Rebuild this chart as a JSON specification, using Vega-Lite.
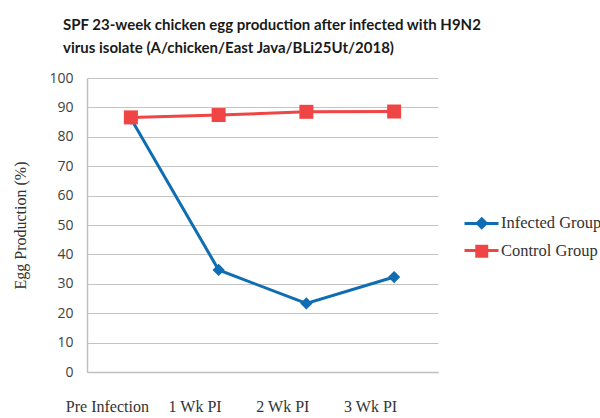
{
  "$schema": "https://vega.github.io/schema/vega-lite/v6.json",
  "autosize": {"type": "none"},
  "padding": {"left": 87, "top": 78, "right": 162, "bottom": 46},
  "width": 351,
  "height": 294,
  "background": "white",
  "title": {
    "text": ["SPF 23-week chicken egg production after infected with H9N2", " virus isolate (A/chicken/East Java/BLi25Ut/2018)"],
    "anchor": "start",
    "frame": "group",
    "dx": -24,
    "offset": 15,
    "font": "Lato",
    "fontSize": 15,
    "fontWeight": "bold",
    "color": "#1a1a1a",
    "lineHeight": 23
  },
  "data": {
    "values": [
      {"week": "Pre Infection", "group": "Infected Group", "line": "Infected", "value": 86.2},
      {"week": "1 Wk PI", "group": "Infected Group", "line": "Infected", "value": 34.7},
      {"week": "2 Wk PI", "group": "Infected Group", "line": "Infected", "value": 23.3},
      {"week": "3 Wk PI", "group": "Infected Group", "line": "Infected", "value": 32.3},
      {"week": "Pre Infection", "group": "Control Group", "line": "Control", "value": 86.6},
      {"week": "1 Wk PI", "group": "Control Group", "line": "Control", "value": 87.4},
      {"week": "2 Wk PI", "group": "Control Group", "line": "Control", "value": 88.5},
      {"week": "3 Wk PI", "group": "Control Group", "line": "Control", "value": 88.6}
    ]
  },
  "encoding": {
    "x": {
      "field": "week",
      "type": "nominal",
      "sort": ["Pre Infection", "1 Wk PI", "2 Wk PI", "3 Wk PI"],
      "scale": {"type": "point", "padding": 0.5},
      "axis": {
        "title": null,
        "labelAngle": 0,
        "labelFont": "Liberation Serif",
        "labelFontSize": 16,
        "labelColor": "#333333",
        "labelPadding": 26,
        "labelOffset": -24,
        "ticks": false,
        "domainColor": "#bfbfbf",
        "domainWidth": 1.5,
        "grid": false
      }
    },
    "y": {
      "field": "value",
      "type": "quantitative",
      "scale": {"domain": [0, 100], "nice": false},
      "axis": {
        "title": "Egg Production (%)",
        "titleFont": "Liberation Serif",
        "titleFontSize": 16,
        "titleFontWeight": "normal",
        "titleColor": "#333333",
        "titlePadding": 20,
        "labelFont": "Open Sans",
        "labelFontSize": 14,
        "labelColor": "#404040",
        "labelPadding": 14,
        "values": [0, 10, 20, 30, 40, 50, 60, 70, 80, 90, 100],
        "labelOverlap": false,
        "ticks": false,
        "domainColor": "#bfbfbf",
        "domainWidth": 1.5,
        "gridColor": "#c4c4c4",
        "gridWidth": 1.2
      }
    }
  },
  "layer": [
    {
      "mark": {"type": "line", "strokeWidth": 3},
      "encoding": {
        "stroke": {
          "field": "line",
          "type": "nominal",
          "sort": ["Infected", "Control"],
          "scale": {"domain": ["Infected", "Control"], "range": ["#0f6db3", "#f04545"]},
          "legend": {
            "title": null,
            "orient": "none",
            "legendX": 376,
            "legendY": 127,
            "padding": 0,
            "symbolType": "stroke",
            "symbolSize": 1156,
            "symbolStrokeWidth": 3,
            "rowPadding": -8,
            "labelFontSize": 15,
            "labelExpr": "''",
            "labelOpacity": 0
          }
        }
      }
    },
    {
      "mark": {"type": "point", "filled": true, "opacity": 1},
      "encoding": {
        "fill": {
          "field": "group",
          "type": "nominal",
          "sort": ["Infected Group", "Control Group"],
          "scale": {"domain": ["Infected Group", "Control Group"], "range": ["#0f6db3", "#f04545"]},
          "legend": {
            "title": null,
            "orient": "none",
            "legendX": 386.5,
            "legendY": 137,
            "padding": 0,
            "labelFont": "Liberation Serif",
            "labelFontSize": 16.5,
            "labelColor": "#333333",
            "labelOffset": 11,
            "labelLimit": 200,
            "rowPadding": 11,
            "symbolSize": 169,
            "symbolStrokeWidth": 0,
            "symbolOpacity": 1
          }
        },
        "shape": {
          "field": "group",
          "type": "nominal",
          "sort": ["Infected Group", "Control Group"],
          "scale": {"domain": ["Infected Group", "Control Group"], "range": ["diamond", "square"]}
        },
        "size": {
          "field": "group",
          "type": "nominal",
          "scale": {"domain": ["Control Group", "Infected Group"], "range": [196, 150]},
          "legend": null
        }
      }
    }
  ],
  "config": {
    "view": {"stroke": null}
  }
}
